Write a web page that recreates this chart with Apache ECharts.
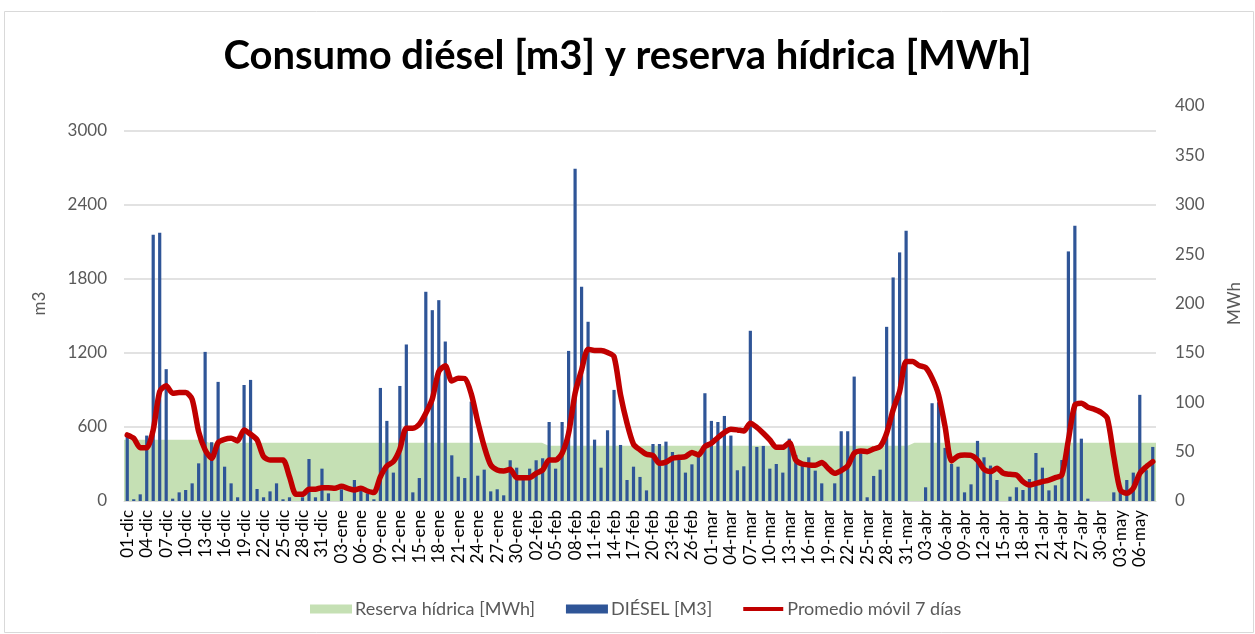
<!DOCTYPE html>
<html>
<head>
<meta charset="utf-8">
<script src="https://cdn.jsdelivr.net/npm/echarts@6/dist/echarts.min.js"></script>
<style>
html,body{margin:0;padding:0;background:#fff;}
#chart{width:1255px;height:634px;}
</style>
</head>
<body>
<div id="chart"></div>
<script>
// Months and number of days shown (01-dic ... 08-may)
const months = ['dic', 'ene', 'feb', 'mar', 'abr', 'may'];
const monthDays = [31, 31, 28, 31, 30, 8];

// DIÉSEL [M3] (left axis)
const diesel = [
  520, 14, 54, 530, 2157, 2173, 1068, 19, 70, 89,
  143, 305, 1208, 476, 965, 278, 143, 30, 940, 981,
  97, 30, 78, 143, 14, 30, 0, 30, 340, 30,
  262, 62, 0, 95, 0, 170, 116, 62, 14, 916,
  649, 230, 932, 1268, 70, 186, 1695, 1546, 1627, 1292,
  370, 197, 186, 805, 205, 254, 78, 95, 46, 330,
  270, 200, 262, 330, 346, 640, 262, 640, 1216, 2692,
  1735, 1452, 497, 270, 573, 900, 454, 170, 278, 195,
  86, 462, 462, 481, 397, 332, 230, 297, 360, 873,
  649, 640, 689, 530, 249, 281, 1379, 438, 446, 262,
  300, 230, 505, 373, 284, 354, 246, 143, 0, 143,
  565, 565, 1008, 387, 30, 203, 254, 1411, 1811, 2014,
  2189, 0, 0, 111, 792, 800, 430, 300, 278, 70,
  135, 487, 354, 287, 170, 0, 35, 111, 89, 178,
  389, 270, 86, 127, 332, 2022, 2230, 505, 19, 0,
  0, 0, 70, 116, 170, 230, 860, 250, 438
];

// Promedio móvil 7 días (left axis)
const movingAvg = [
  535, 508, 432, 432, 576, 887, 933, 873, 878, 878,
  824, 562, 414, 346, 473, 500, 508, 487, 576, 541,
  495, 360, 332, 332, 332, 197, 54, 54, 95, 95,
  108, 108, 103, 119, 103, 89, 103, 81, 68, 197,
  284, 319, 420, 589, 589, 622, 711, 827, 1049, 1095,
  973, 995, 992, 868, 643, 441, 292, 251, 243, 257,
  189, 189, 189, 224, 251, 332, 332, 387, 549, 873,
  1062, 1230, 1219, 1219, 1203, 1170, 860, 630, 460, 414,
  378, 368, 305, 315, 346, 354, 360, 392, 373, 441,
  468, 514, 554, 581, 576, 568, 630, 597, 549, 495,
  435, 435, 473, 332, 300, 292, 289, 311, 265, 224,
  246, 284, 387, 405, 400, 422, 441, 549, 738, 887,
  1130, 1130, 1097, 1081, 995, 860, 603, 325, 365, 373,
  370, 332, 257, 238, 265, 224, 216, 211, 157, 130,
  143, 157, 170, 189, 211, 495, 778, 792, 760, 743,
  719, 670, 360, 89, 62, 103, 224, 278, 319
];

// Reserva hídrica [MWh] (right axis)
const reserve = [
  62, 62, 62, 62, 62, 62, 62, 62, 62, 62,
  62, 62, 62, 59, 59, 59, 59, 59, 59, 59,
  59, 59, 59, 59, 59, 59, 59, 59, 59, 59,
  59, 59, 59, 59, 59, 59, 59, 59, 59, 59,
  59, 59, 59, 59, 59, 59, 59, 59, 59, 59,
  59, 59, 59, 59, 59, 59, 59, 59, 59, 59,
  59, 59, 59, 59, 59, 56, 56, 56, 56, 56,
  56, 56, 56, 56, 56, 56, 56, 56, 56, 56,
  56, 56, 56, 56, 56, 56, 56, 56, 56, 56,
  56, 56, 56, 56, 56, 56, 56, 56, 56, 56,
  56, 56, 56, 56, 56, 56, 56, 56, 56, 56,
  56, 56, 56, 56, 56, 56, 56, 56, 56, 56,
  56, 59, 59, 59, 59, 59, 59, 59, 59, 59,
  59, 59, 59, 59, 59, 59, 59, 59, 59, 59,
  59, 59, 59, 59, 59, 59, 59, 59, 59, 59,
  59, 59, 59, 59, 59, 59, 59, 59, 59
];

const leftTicks = { min: 0, max: 3200, interval: 600 };
const rightTicks = { min: 0, max: 400, interval: 50 };

// Build category labels
const categories = [];
months.forEach((m, k) => {
  for (let d = 1; d <= monthDays[k]; d++) {
    categories.push((d < 10 ? '0' + d : '' + d) + '-' + m);
  }
});

const FONT = 'Lato, "Noto Sans", sans-serif';
const chart = echarts.init(document.getElementById('chart'), null, { renderer: 'canvas' });

chart.setOption({
  animation: false,
  backgroundColor: '#ffffff',
  textStyle: { fontFamily: FONT },
  graphic: [{
    type: 'rect',
    shape: { x: 4.5, y: 11.5, width: 1249, height: 621 },
    style: { fill: 'none', stroke: '#d9d9d9', lineWidth: 1 },
    silent: true
  }],
  title: {
    text: 'Consumo diésel [m3] y reserva hídrica [MWh]',
    left: 'center',
    top: 31,
    textStyle: { fontFamily: FONT, fontWeight: 'bold', fontSize: 40, color: '#000000' }
  },
  grid: { left: 124, right: 99, top: 106, bottom: 133 },
  legend: {
    top: 595,
    left: 305,
    itemWidth: 42,
    itemHeight: 9,
    itemGap: 31,
    textStyle: { fontFamily: FONT, fontSize: 18, color: '#595959', padding: [0, 0, 0, -2] },
    data: [
      { name: 'Reserva hídrica [MWh]', icon: 'rect', itemStyle: { color: '#c5e0b4' } },
      { name: 'DIÉSEL [M3]', icon: 'rect' },
      { name: 'Promedio móvil 7 días', icon: 'path://M0,0M0,9M0,2.5L40,2.5L40,6.5L0,6.5Z', itemStyle: { color: '#c00000' } }
    ]
  },
  xAxis: [
    {
      type: 'category',
      data: categories,
      boundaryGap: true,
      axisLine: { lineStyle: { color: '#d9d9d9', width: 1 } },
      axisTick: { show: false },
      axisLabel: { interval: 2, rotate: 90, fontSize: 17, color: '#000000', margin: 9, fontFamily: FONT }
    },
    {
      type: 'category',
      data: categories,
      boundaryGap: false,
      show: false
    }
  ],
  yAxis: [
    {
      type: 'value',
      min: leftTicks.min, max: leftTicks.max, interval: leftTicks.interval,
      name: 'm3',
      nameLocation: 'middle',
      nameRotate: 90,
      nameGap: 76,
      nameTextStyle: { fontSize: 17, color: '#595959', fontFamily: FONT },
      axisLine: { show: false },
      axisTick: { show: false },
      axisLabel: { fontSize: 17, color: '#595959', margin: 17, showMaxLabel: false, fontFamily: FONT,
        formatter: function (v) { return String(v); } },
      splitLine: {
        showMaxLine: false,
        lineStyle: { color: ['#d9d9d9', '#d9d9d9', '#d9d9d9', '#d9d9d9', '#d9d9d9', '#d9d9d9', 'rgba(0,0,0,0)'], width: 1.5 }
      }
    },
    {
      type: 'value',
      position: 'right',
      min: rightTicks.min, max: rightTicks.max, interval: rightTicks.interval,
      name: 'MWh',
      nameLocation: 'middle',
      nameRotate: 90,
      nameGap: 70,
      nameTextStyle: { fontSize: 17, color: '#595959', fontFamily: FONT },
      axisLine: { show: false },
      axisTick: { show: false },
      axisLabel: { fontSize: 17, color: '#595959', margin: 19, fontFamily: FONT,
        formatter: function (v) { return String(v); } },
      splitLine: { show: false }
    }
  ],
  series: [
    {
      name: 'Reserva hídrica [MWh]',
      type: 'line',
      xAxisIndex: 1,
      yAxisIndex: 1,
      data: reserve,
      symbol: 'none',
      itemStyle: { color: '#c5e0b4' },
      lineStyle: { width: 0, color: '#c5e0b4' },
      areaStyle: { color: '#c5e0b4', opacity: 1 },
      z: 1
    },
    {
      name: 'DIÉSEL [M3]',
      type: 'bar',
      xAxisIndex: 0,
      yAxisIndex: 0,
      data: diesel,
      barWidth: 3.2,
      itemStyle: { color: '#2f5597' },
      z: 2
    },
    {
      name: 'Promedio móvil 7 días',
      type: 'line',
      xAxisIndex: 0,
      yAxisIndex: 0,
      data: movingAvg,
      symbol: 'none',
      smooth: 0.25,
      itemStyle: { color: '#c00000' },
      lineStyle: { width: 5.5, color: '#c00000', join: 'round', cap: 'round' },
      z: 3
    }
  ]
});
</script>
</body>
</html>
